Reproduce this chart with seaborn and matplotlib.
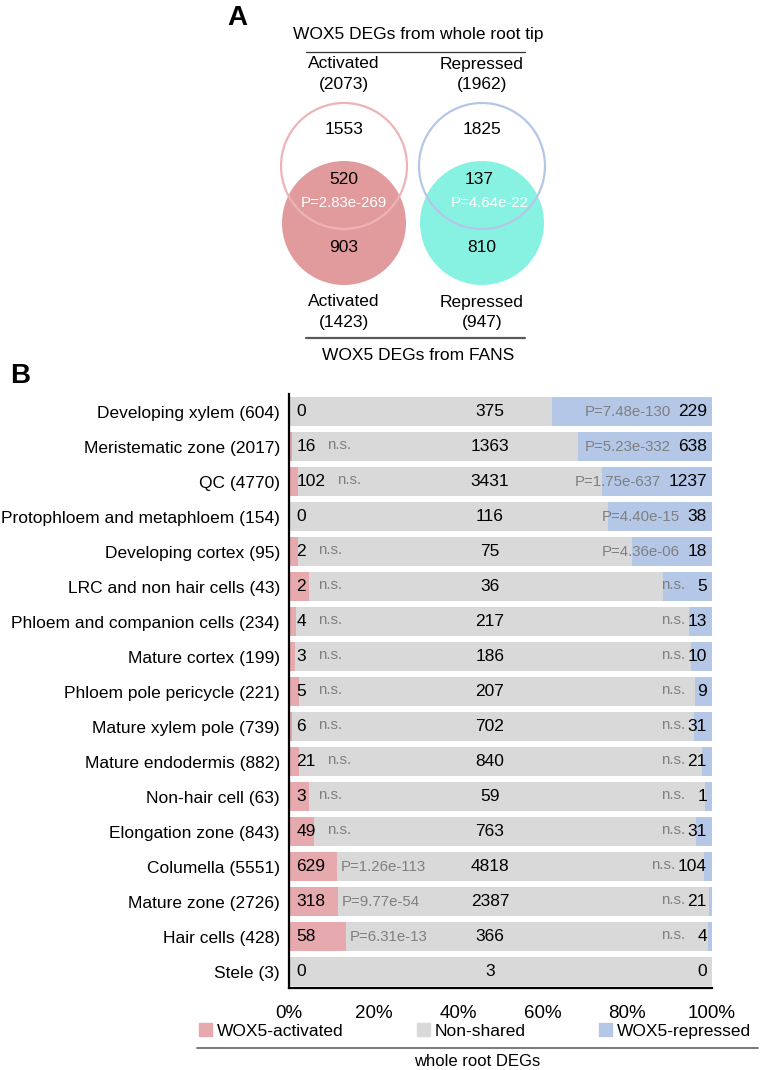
import numpy as np
import pandas as pd
import matplotlib
matplotlib.use("Agg")
import matplotlib.pyplot as plt
from matplotlib.patches import Circle, Patch
import seaborn as sns

# Panel A: Venn counts
venn_groups = ["Activated", "Repressed"]
whole_totals = [2073, 1962]
fans_totals = [1423, 947]
only_whole = [1553, 1825]
overlap = [520, 137]
only_fans = [903, 810]
overlap_p = ["P=2.83e-269", "P=4.64e-22"]

# Panel B: cell types and counts
cell_types = ["Developing xylem", "Meristematic zone", "QC",
              "Protophloem and metaphloem", "Developing cortex",
              "LRC and non hair cells", "Phloem and companion cells",
              "Mature cortex", "Phloem pole pericycle", "Mature xylem pole",
              "Mature endodermis", "Non-hair cell", "Elongation zone",
              "Columella", "Mature zone", "Hair cells", "Stele"]
activated = [0, 16, 102, 0, 2, 2, 4, 3, 5, 6, 21, 3, 49, 629, 318, 58, 0]
nonshared = [375, 1363, 3431, 116, 75, 36, 217, 186, 207, 702, 840, 59, 763,
             4818, 2387, 366, 3]
repressed = [229, 638, 1237, 38, 18, 5, 13, 10, 9, 31, 21, 1, 31, 104, 21, 4, 0]
act_p = ["", "n.s.", "n.s.", "", "n.s.", "n.s.", "n.s.", "n.s.", "n.s.",
         "n.s.", "n.s.", "n.s.", "n.s.", "P=1.26e-113", "P=9.77e-54",
         "P=6.31e-13", ""]
rep_p = ["P=7.48e-130", "P=5.23e-332", "P=1.75e-637", "P=4.40e-15",
         "P=4.36e-06", "n.s.", "n.s.", "n.s.", "n.s.", "n.s.", "n.s.",
         "n.s.", "n.s.", "n.s.", "n.s.", "n.s.", ""]
pct_ticks = [0, 0.2, 0.4, 0.6, 0.8, 1.0]

PINK = "#E6A9AD"
GRAY = "#D9D9D9"
BLUE = "#B4C7E7"
PGRAY = "#7f7f7f"

sns.set_theme(style="white")
plt.rcParams["font.family"] = ["Liberation Sans", "DejaVu Sans"]
plt.rcParams["text.color"] = "black"
plt.rcParams["axes.labelcolor"] = "black"
plt.rcParams["xtick.color"] = "black"
plt.rcParams["ytick.color"] = "black"

fig = plt.figure(figsize=(7.6, 10.7), dpi=100)

# ---- Panel B: stacked bars ----
totals = np.array(activated) + np.array(nonshared) + np.array(repressed)
df = pd.DataFrame({
    "label": [f"{c} ({t})" for c, t in zip(cell_types, totals)],
    "all": totals / totals,
    "act_non": (np.array(activated) + np.array(nonshared)) / totals,
    "act": np.array(activated) / totals,
})

ax = fig.add_axes([289 / 760, 1 - 988 / 1070, 423 / 760, 594 / 1070])
for col, colr in [("all", BLUE), ("act_non", GRAY), ("act", PINK)]:
    sns.barplot(data=df, x=col, y="label", color=colr, saturation=1,
                width=0.83, errorbar=None, linewidth=0, ax=ax)

ax.set_xlim(0, 1)
ax.set_ylim(16.46, -0.5)
ax.set_xlabel("")
ax.set_ylabel("")
ax.set_xticks(pct_ticks)
ax.set_xticklabels([f"{int(round(t * 100))}%" for t in pct_ticks])
ax.tick_params(axis="x", length=0, pad=12, labelsize=13.5, colors="black")
ax.tick_params(axis="y", length=0, pad=6.5, labelsize=12.5, colors="black")
sns.despine(ax=ax, top=True, right=True)
for side in ["left", "bottom"]:
    ax.spines[side].set_color("black")
    ax.spines[side].set_linewidth(1.6)

dw = 0.022  # approx digit width in axis units
for i in range(len(cell_types)):
    a, n, r = activated[i], nonshared[i], repressed[i]
    frac = a / totals[i]
    ax.text(0.017, i, str(a), ha="left", va="center", fontsize=12.5)
    ax.text(0.475, i, str(n), ha="center", va="center", fontsize=12.5)
    ax.text(0.988, i, str(r), ha="right", va="center", fontsize=12.5)
    if act_p[i]:
        x0 = max(0.017 + len(str(a)) * dw + 0.03, frac + 0.008)
        dy = -0.05 if act_p[i] == "n.s." else 0
        ax.text(x0, i + dy, act_p[i], ha="left", va="center",
                fontsize=10.8, color=PGRAY)
    if rep_p[i]:
        start = 0.988 - len(str(r)) * dw
        if rep_p[i] == "n.s.":
            x1 = min(0.937, start - 0.008)
            dy = -0.05
        else:
            x1 = start - 0.02
            dy = 0
        ax.text(x1, i + dy, rep_p[i], ha="right", va="center",
                fontsize=10.8, color=PGRAY)

handles = [Patch(color=PINK, label="WOX5-activated"),
           Patch(color=GRAY, label="Non-shared"),
           Patch(color=BLUE, label="WOX5-repressed")]
fig.legend(handles=handles, ncol=3, loc="center left",
           bbox_to_anchor=(199 / 760, 1 - 1031 / 1070), frameon=False,
           fontsize=12.5, handlelength=0.75, handleheight=0.75,
           handletextpad=0.3, columnspacing=4.2, borderpad=0,
           borderaxespad=0)

# ---- overlay in pixel coordinates: panel A and annotations ----
ov = fig.add_axes([0, 0, 1, 1])
ov.set_xlim(0, 760)
ov.set_ylim(1070, 0)
ov.axis("off")

ov.text(237, 18, "A", ha="center", va="center", fontsize=20,
        fontweight="bold")
ov.text(20, 376, "B", ha="center", va="center", fontsize=20,
        fontweight="bold")

ov.text(418, 35, "WOX5 DEGs from whole root tip", ha="center",
        va="center", fontsize=12.5)
ov.plot([306, 525], [52, 52], color="#333333", lw=0.9)
ov.plot([306, 525], [338, 338], color="#5a5a5a", lw=1.6)
ov.text(418, 356, "WOX5 DEGs from FANS", ha="center", va="center",
        fontsize=12.5)

cx = [344, 482]
fills = ["#E29B9D", "#88F2E2"]
edges = ["#ECB4B6", "#B4C7E7"]
for k in range(2):
    ov.add_patch(Circle((cx[k], 223), 62, facecolor=fills[k],
                        edgecolor="none", zorder=1))
    ov.add_patch(Circle((cx[k], 166), 63, facecolor="none",
                        edgecolor=edges[k], lw=1.6, zorder=2))
    ov.text(cx[k], 64, venn_groups[k], ha="center", va="center",
            fontsize=12.5)
    ov.text(cx[k], 85, f"({whole_totals[k]})", ha="center", va="center",
            fontsize=12.5)
    ov.text(cx[k], 129, str(only_whole[k]), ha="center", va="center",
            fontsize=12.5, zorder=3)
    ov.text(cx[k] - 3 * k, 180, str(overlap[k]), ha="center",
            va="center", fontsize=12.5, zorder=3)
    ov.text(cx[k] + 8 * k, 203, overlap_p[k], ha="center", va="center",
            fontsize=10.8, color="white", zorder=3)
    ov.text(cx[k], 248, str(only_fans[k]), ha="center", va="center",
            fontsize=12.5, zorder=3)
    ov.text(cx[k], 302, venn_groups[k], ha="center", va="center",
            fontsize=12.5)
    ov.text(cx[k], 322, f"({fans_totals[k]})", ha="center", va="center",
            fontsize=12.5)

ov.plot([197, 758], [1048, 1048], color="#6e6e6e", lw=1.3)
ov.text(477, 1062, "whole root DEGs", ha="center", va="center",
        fontsize=12)

fig.savefig("out.png", dpi=100)
